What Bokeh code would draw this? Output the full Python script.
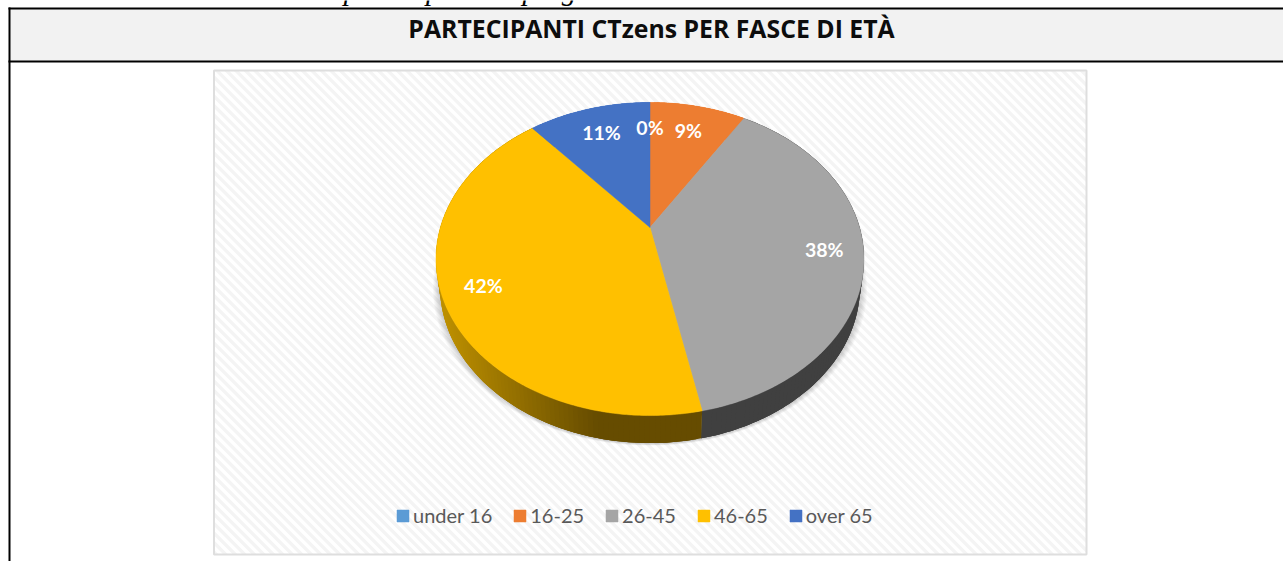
import numpy as np
from bokeh.plotting import figure
from bokeh.models import Range1d, Legend, LegendItem
from bokeh.core.properties import value
from bokeh.embed import file_html
from bokeh.resources import INLINE

# ---- data ----
categories = ["under 16", "16-25", "26-45", "46-65", "over 65"]
shares = [0, 8.8, 38.0, 42.0, 11.2]
labels = ["0%", "9%", "38%", "42%", "11%"]
colors = ["#5B9BD5", "#ED7D31", "#A5A5A5", "#FFC000", "#4472C4"]
side_colors = ["#5B9BD5", "#ED7D31", "#404040", "#FFC000", "#4472C4"]
title = "PARTECIPANTI CTzens PER FASCE DI ETÀ"
caption = "Tabella 6: Fasce di età dei partecipanti ai progetti di Catania"

# ---- layout ----
W, H = 1283, 561
PIE_X, PIE_Y, PIE_A, PIE_B, PIE_K = 649.5, 227.0, 209.6, 150.2, 0.2013
label_radius = [0.77, 0.77, 0.82, 0.82, 0.77]
BOX = (213.5, 70.0, 1086.0, 554.0)

p = figure(width=W, height=H, output_backend="svg", toolbar_location=None,
           x_range=Range1d(0, W), y_range=Range1d(H, 0),
           min_border=0, outline_line_color=None, background_fill_color="white",
           border_fill_color="white")
p.xaxis.visible = False
p.yaxis.visible = False
p.xgrid.visible = False
p.ygrid.visible = False


def project(theta, f=1.0, depth=0.0, shrink=1.0):
    u, v = f * np.sin(theta), f * np.cos(theta)
    d = 1 + PIE_K * v
    return PIE_X + shrink * PIE_A * u / d, PIE_Y + depth - PIE_B * v / d


# caption clipped by the top of the page
p.text(x=[27], y=[-10.3], text=[caption], text_font=value("Liberation Serif"), text_font_style="italic",
       text_font_size="29px", text_color="black", text_baseline="alphabetic")

# table frame
p.quad(left=[9], right=[W], top=[8], bottom=[61], fill_color="#F2F2F2", line_color=None)
p.segment(x0=[8, 8, 9], y0=[8, 61, 7], x1=[W, W, 9], y1=[8, 61, H], line_color="black", line_width=2)

# title
p.text(x=[651], y=[27.5], text=[title], text_font=value("Open Sans"), text_font_style="bold",
       text_font_size="24.8px", text_color="#0d0d0d", text_align="center", text_baseline="middle")

# chart area: white box, diagonal stripes, border
x0, y0, x1, y1 = BOX


def clip_band(c0, c1):
    poly = [(x0, y0), (x1, y0), (x1, y1), (x0, y1)]

    def clip(pts, inside, cross):
        out = []
        for i in range(len(pts)):
            a, b = pts[i], pts[(i + 1) % len(pts)]
            ia, ib = inside(a), inside(b)
            if ia:
                out.append(a)
            if ia != ib:
                out.append(cross(a, b))
        return out

    def cross_at(c):
        def f(a, b):
            da, db = a[0] - a[1] - c, b[0] - b[1] - c
            t = da / (da - db)
            return (a[0] + t * (b[0] - a[0]), a[1] + t * (b[1] - a[1]))
        return f

    poly = clip(poly, lambda q: q[0] - q[1] >= c0, cross_at(c0))
    if poly:
        poly = clip(poly, lambda q: q[0] - q[1] <= c1, cross_at(c1))
    return poly


p.quad(left=[x0], right=[x1], top=[y0], bottom=[y1], fill_color="white", line_color=None)
sx, sy = [], []
for c in np.arange(x0 - y1, x1 - y0, 9.5):
    poly = clip_band(c, c + 4.7)
    if len(poly) >= 3:
        sx.append([q[0] for q in poly])
        sy.append([q[1] for q in poly])
p.patches(sx, sy, fill_color="#F4F4F4", line_color=None)
p.quad(left=[x0], right=[x1], top=[y0], bottom=[y1], fill_color=None, line_color="#DEDEDE", line_width=2)

# soft shadow beneath the pie
ring = np.linspace(0, 2 * np.pi, 180)
for i in range(1, 8):
    xs, ys = project(ring, 1.0, 28.0 + i * 0.3, (210 + i) / 214.0)
    p.patch(xs, ys, fill_color="black", fill_alpha=0.028, line_color=None)

# pie side walls: each strip overlaps the next ones, painted in order, so no seams appear
edges = np.concatenate([[0], np.cumsum(shares)]) / float(sum(shares)) * 2 * np.pi
wx, wy, wc = [], [], []
DARK, LIGHT = np.array([0x66, 0x4C, 0x00]), np.array([0xBC, 0x8F, 0x00])
for i, cat in enumerate(categories):
    a, b = edges[i], edges[i + 1]
    if b <= a:
        continue
    n = max(2, int((b - a) / 0.02))
    th = np.linspace(a, b, n + 1)
    tx, ty = project(th)
    lx, ly = project(th, 1.0, 27.5, 210 / 214.0)
    for j in range(n):
        e = min(j + 3, n)
        wx.append(list(tx[j:e + 1]) + list(lx[j:e + 1][::-1]))
        wy.append(list(ty[j:e + 1]) + list(ly[j:e + 1][::-1]))
        if cat == "46-65":
            t = np.clip((tx[j] - 600) / (445 - 600), 0, 1)
            rgb = (DARK + (LIGHT - DARK) * t).astype(int)
            wc.append("#%02x%02x%02x" % tuple(rgb))
        else:
            wc.append(side_colors[i])
p.patches(wx, wy, fill_color=wc, line_color=None)

# pie top
items = []
for i, cat in enumerate(categories):
    a, b = edges[i], edges[i + 1]
    th = np.linspace(a, b, max(2, int((b - a) / 0.01)) + 1)
    ex, ey = project(th)
    r = p.patch(np.concatenate([[PIE_X], ex]), np.concatenate([[PIE_Y], ey]),
                fill_color=colors[i], line_color=colors[i], line_width=0.5)
    items.append(LegendItem(label=cat, renderers=[r]))

# data labels
mid = (edges[:-1] + edges[1:]) / 2
lx, ly = project(mid, np.array(label_radius))
p.text(x=lx, y=ly, text=labels, text_font=value("Lato"), text_font_style="bold",
       text_font_size="19.5px", text_color="white", text_align="center", text_baseline="middle")

legend = Legend(items=items, orientation="horizontal", location=(395, 34),
                background_fill_alpha=0, border_line_color=None, margin=0, padding=0,
                glyph_width=15, glyph_height=15, label_standoff=3, spacing=20,
                label_text_font="Lato", label_text_font_size="20px", label_text_color="#595959")
p.add_layout(legend, "center")

open("out.html", "w").write(file_html(p, INLINE))
